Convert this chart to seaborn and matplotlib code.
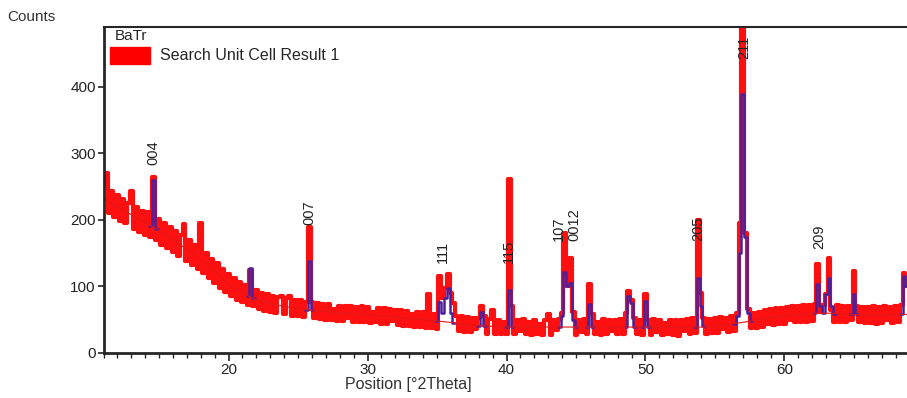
import matplotlib
matplotlib.use("Agg")
import matplotlib.pyplot as plt
from matplotlib.patches import Rectangle
from matplotlib.ticker import MultipleLocator
import seaborn as sns
import numpy as np
import pandas as pd

# scan: 11 - 69 deg 2Theta, step 0.2
scan_start = 11.0
scan_step = 0.2

obs_counts = [
    252, 270, 210, 243, 204,   # 11
    238, 198, 232, 195, 226,   # 12
    243, 186, 220, 182, 214,   # 13
    178, 212, 174, 264, 170,   # 14
    202, 163, 196, 158, 190,   # 15
    152, 184, 146, 178, 194,   # 16
    138, 170, 133, 162, 126,   # 17
    195, 120, 150, 112, 142,   # 18
    105, 136, 98, 126, 92,     # 19
    118, 86, 112, 80, 106,     # 20
    76, 102, 72, 125, 70,      # 21
    94, 66, 90, 63, 88,        # 22
    61, 86, 60, 84, 86,        # 23
    58, 82, 86, 56, 80,        # 24
    55, 79, 54, 77, 190,       # 25
    76, 52, 75, 51, 74,        # 26
    50, 73, 49, 66, 48,        # 27
    71, 48, 70, 52, 70,        # 28
    47, 69, 46, 70, 46,        # 29
    69, 45, 62, 46, 67,        # 30
    44, 67, 43, 66, 48,        # 31
    65, 42, 64, 41, 63,        # 32
    40, 58, 39, 62, 39,        # 33
    61, 38, 89, 37, 59,        # 34
    36, 116, 82, 98, 119,      # 35
    90, 75, 56, 33, 55,        # 36
    32, 54, 31, 53, 36,        # 37
    52, 71, 55, 29, 51,        # 38
    64, 29, 50, 28, 46,        # 39
    29, 262, 70, 28, 50,       # 40
    33, 51, 29, 46, 27,        # 41
    50, 28, 44, 27, 49,        # 42
    59, 27, 50, 34, 51,        # 43
    60, 180, 100, 143, 62,     # 44
    27, 50, 32, 51, 29,        # 45
    104, 58, 28, 46, 27,       # 46
    51, 28, 50, 33, 49,        # 47
    28, 51, 29, 60, 93,        # 48
    80, 52, 28, 50, 27,        # 49
    89, 50, 27, 51, 32,        # 50
    50, 27, 45, 28, 49,        # 51
    27, 50, 26, 49, 33,        # 52
    51, 28, 52, 30, 200,       # 53
    90, 52, 29, 51, 30,        # 54
    53, 30, 54, 36, 53,        # 55
    32, 55, 33, 60, 195,       # 56
    560, 180, 66, 37, 60,      # 57
    38, 62, 39, 64, 44,        # 58
    66, 42, 67, 43, 68,        # 59
    44, 69, 50, 70, 46,        # 60
    71, 46, 72, 47, 72,        # 61
    48, 73, 134, 62, 72,       # 62
    89, 143, 64, 47, 72,       # 63
    47, 71, 46, 70, 50,        # 64
    123, 70, 46, 69, 45,       # 65
    69, 45, 70, 44, 69,        # 66
    45, 70, 50, 69, 45,        # 67
    70, 46, 72, 120, 100,      # 68
    90,                        # 69
]

# calculated profile, only where it rises above the background
N = np.nan
calc_counts = [
    N, N, N, N, N,             # 11
    N, N, N, N, N,             # 12
    N, N, N, N, N,             # 13
    N, N, 191, 260, 186,       # 14
    N, N, N, N, N,             # 15
    N, N, N, N, N,             # 16
    N, N, N, N, N,             # 17
    N, N, N, N, N,             # 18
    N, N, N, N, N,             # 19
    N, N, N, N, N,             # 20
    N, N, 86, 128, 82,         # 21
    N, N, N, N, N,             # 22
    N, N, N, N, N,             # 23
    N, N, N, N, N,             # 24
    N, N, N, 65, 139,          # 25
    64, N, N, N, N,            # 26
    N, N, N, N, N,             # 27
    N, N, N, N, N,             # 28
    N, N, N, N, N,             # 29
    N, N, N, N, N,             # 30
    N, N, N, N, N,             # 31
    N, N, N, N, N,             # 32
    N, N, N, N, N,             # 33
    N, N, N, N, N,             # 34
    48, 76, 60, 82, 98,        # 35
    60, 45, N, N, N,           # 36
    N, N, N, N, N,             # 37
    41, 62, 41, N, N,          # 38
    N, N, N, N, N,             # 39
    39, 94, 39, N, N,          # 40
    N, N, N, N, N,             # 41
    N, N, N, N, N,             # 42
    N, N, N, N, 39,            # 43
    55, 122, 100, 105, 50,     # 44
    39, N, N, N, 39,           # 45
    74, 39, N, N, N,           # 46
    N, N, N, N, N,             # 47
    N, N, N, 39, 86,           # 48
    75, 39, N, N, 39,          # 49
    78, 39, N, N, N,           # 50
    N, N, N, N, N,             # 51
    N, N, N, N, N,             # 52
    N, N, N, 39, 113,          # 53
    70, 40, N, N, N,           # 54
    N, N, N, N, N,             # 55
    N, N, 44, 55, 150,         # 56
    389, 175, 60, 48, N,       # 57
    N, N, N, N, N,             # 58
    N, N, N, N, N,             # 59
    N, N, N, N, N,             # 60
    N, N, N, N, N,             # 61
    N, 60, 103, 70, 60,        # 62
    89, 113, 70, 59, N,        # 63
    N, N, N, N, 58,            # 64
    89, 58, N, N, N,           # 65
    N, N, N, N, N,             # 66
    N, N, N, N, N,             # 67
    N, N, 58, 116, 100,        # 68
    80,                        # 69
]

# fitted background, 1 deg steps
bg_pos = list(range(11, 70))
bg_counts = [232, 220, 208, 196, 184, 170, 156, 140, 122, 103,
             90, 80, 74, 70, 67, 64, 62, 60, 59, 58,
             56, 54, 52, 50, 48, 46, 43, 41, 40, 39,
             39, 39, 39, 39, 39, 39, 39, 39, 39, 39,
             39, 39, 39, 39, 41, 43, 46, 50, 53, 56,
             58, 60, 60, 59, 58, 57, 57, 58, 58]

# reference peak labels (hkl) and where their labels sit
hkl_labels = ["004", "007", "111", "115", "107", "0012", "205", "211", "209"]
hkl_pos = [14.6, 25.85, 35.4, 40.2, 43.8, 44.9, 53.8, 57.1, 62.5]
hkl_label_y = [282, 192, 135, 135, 168, 168, 168, 442, 156]

two_theta = scan_start + scan_step * np.arange(len(obs_counts))
df = pd.DataFrame({"pos": two_theta, "obs": obs_counts, "calc": calc_counts})
df_bg = pd.DataFrame({"pos": bg_pos, "bg": bg_counts})

sns.set_style("ticks")
plt.rcParams["font.family"] = ["Liberation Sans", "DejaVu Sans"]

fig = plt.figure(figsize=(9.07, 3.98), dpi=100)
ax = fig.add_axes([103.5 / 907, 1 - 353 / 398, 806 / 907, 326 / 398])

# observed scan as a thick red step band
sns.lineplot(data=df, x="pos", y="obs", ax=ax, color="#ff1010", lw=3.0,
             estimator=None, drawstyle="steps-mid")
# calculated peaks on top (plain plot so the gaps stay gaps)
ax.plot(df["pos"], df["calc"], color="#4f1f9a", lw=1.8, drawstyle="steps-mid")
sns.lineplot(data=df_bg, x="pos", y="bg", ax=ax, color="#e01818", lw=0.8,
             estimator=None)

for lab, xp, yp in zip(hkl_labels, hkl_pos, hkl_label_y):
    ax.text(xp, yp, lab, rotation=90, ha="center", va="bottom",
            fontsize=10.5, color="#222222")

ax.set_xlim(11, 69)
ax.set_ylim(0, 490)
ax.xaxis.set_major_locator(MultipleLocator(10))
ax.xaxis.set_minor_locator(MultipleLocator(1))
ax.yaxis.set_major_locator(MultipleLocator(100))
ax.tick_params(axis="x", which="major", length=6, width=1.2, pad=1, labelsize=11, colors="#222222")
ax.tick_params(axis="x", which="minor", length=3.5, width=1.0)
ax.tick_params(axis="y", length=4, width=1.2, pad=1.5, labelsize=11, colors="#222222")
ax.set_xlabel("")
ax.set_ylabel("")
for side in ["left", "bottom"]:
    ax.spines[side].set_linewidth(2.0)
ax.spines["top"].set_linewidth(1.5)
ax.spines["right"].set_visible(False)

# legend-like header
ax.text(0.014, 0.972, "BaTr", transform=ax.transAxes, fontsize=11, va="center", ha="left")
ax.add_patch(Rectangle((0.008, 0.888), 0.05, 0.05, transform=ax.transAxes,
                       color="#ff0000", clip_on=False))
ax.text(0.070, 0.913, "Search Unit Cell Result 1", transform=ax.transAxes,
        fontsize=11.5, va="center", ha="left")

fig.text(7 / 907, 1 - 17 / 398, "Counts", fontsize=11, va="center", ha="left", color="#333333")
fig.text(408 / 907, 1 - 385 / 398, "Position [°2Theta]", fontsize=11.5, va="center", ha="center", color="#333333")

fig.savefig("out.png", dpi=100)
